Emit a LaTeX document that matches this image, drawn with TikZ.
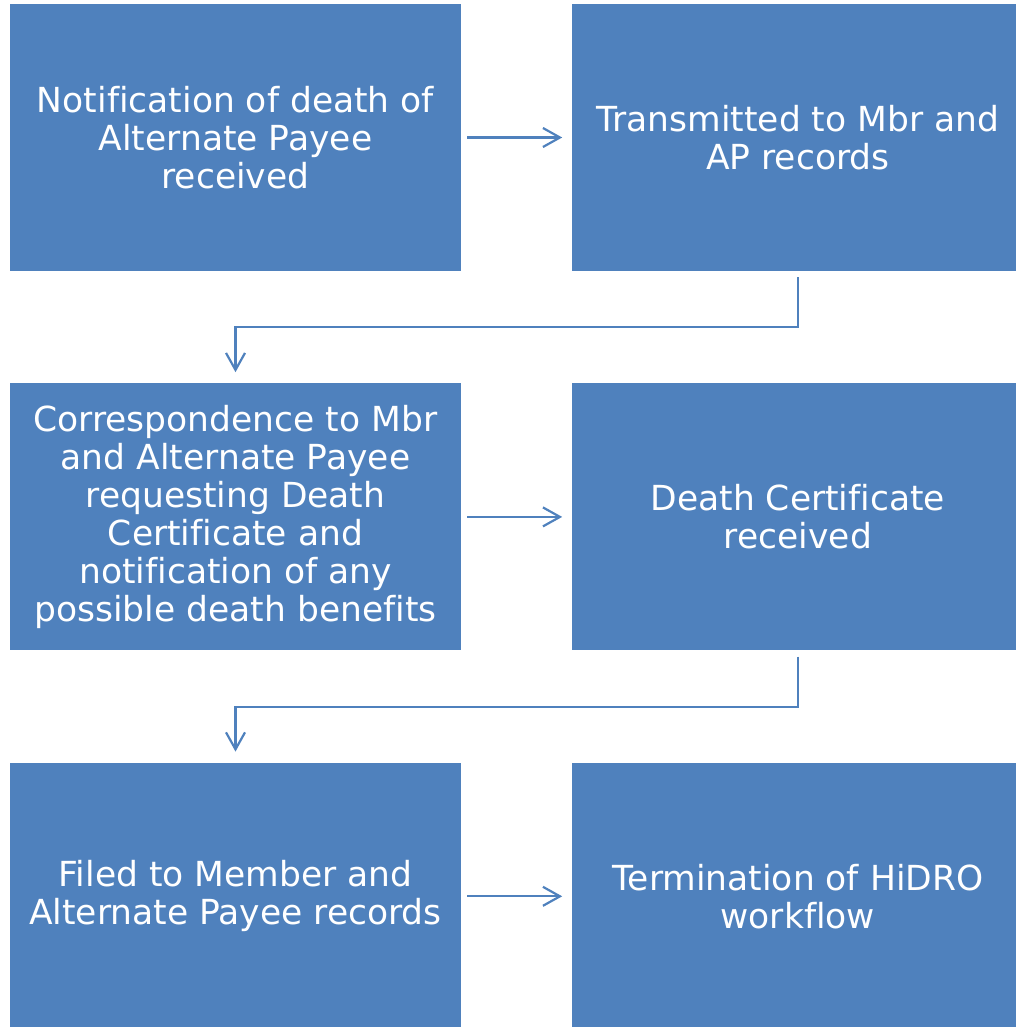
\documentclass[tikz,border=0pt]{standalone}
\usepackage{fontspec}
\setmainfont[Ligatures={NoCommon}]{DejaVu Sans}
\usetikzlibrary{arrows.meta,positioning}
\definecolor{boxblue}{HTML}{4F81BD}
\tikzset{
  stage/.style={rectangle,fill=boxblue,text=white,minimum width=451pt,minimum height=267pt,inner sep=0pt,align=center,font=\fontsize{34.5}{38}\selectfont},
  flow/.style={draw=boxblue,line width=2.2pt,-{Straight Barb[length=17pt,width=19pt,line width=2.2pt]}}
}
\begin{document}
\begin{tikzpicture}[x=1pt,y=1pt]
		\useasboundingbox (0,0) rectangle (1016,-1027);
		\node[stage] (notice) at (235.5,-137.5) {Notification of death of\\Alternate Payee\\received};
		\node[stage,right=111pt of notice] (transmit) {Transmitted to Mbr and\\AP records};
		\node[stage,below=112pt of notice] (letter) {Correspondence to Mbr\\and Alternate Payee\\requesting Death\\Certificate and\\notification of any\\possible death benefits};
		\node[stage,right=111pt of letter] (cert) {Death Certificate\\received};
		\node[stage,below=112pt of letter] (filed) {Filed to Member and\\Alternate Payee records};
		\node[stage,right=111pt of filed] (stop) {Termination of HiDRO\\workflow};
		
		\draw[flow,shorten <=6pt,shorten >=10pt] (notice) -- (transmit);
		\draw[flow,shorten <=6pt,shorten >=10pt] (letter) -- (cert);
		\draw[flow,shorten <=6pt,shorten >=10pt] (filed) -- (stop);
		\draw[flow,shorten <=6pt,shorten >=11pt] (transmit.south) -- ++(0,-56pt) -| (letter.north);
		\draw[flow,shorten <=6pt,shorten >=11pt] (cert.south) -- ++(0,-56pt) -| (filed.north);
	\end{tikzpicture}
\end{document}
